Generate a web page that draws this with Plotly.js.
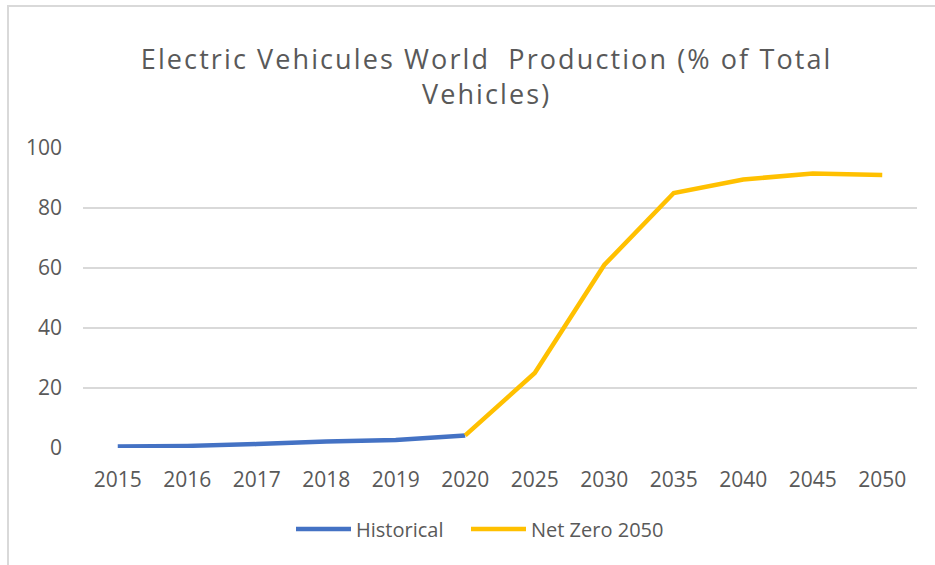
<!DOCTYPE html>
<html>
<head>
<meta charset="utf-8">
<script src="https://cdn.plot.ly/plotly-3.0.1.min.js"></script>
<style>
  html, body { margin: 0; padding: 0; background: #fff; }
  #wrap { position: relative; width: 935px; height: 565px; overflow: hidden; }
  #frame { position: absolute; left: 7px; top: 5px; width: 940px; height: 580px;
           border-left: 2px solid #d9d9d9; border-top: 2px solid #d9d9d9; pointer-events: none; }
  #chart { position: absolute; left: 0; top: 0; width: 935px; height: 565px; }
  #chart .gtitle { letter-spacing: 2.1px; }
</style>
</head>
<body>
<div id="wrap">
  <div id="chart"></div>
  <div id="frame"></div>
</div>
<script>
const categories = ["2015","2016","2017","2018","2019","2020","2025","2030","2035","2040","2045","2050"];
const historicalYears = ["2015","2016","2017","2018","2019","2020"];
const historicalValues = [0.5, 0.7, 1.3, 2.2, 2.7, 4.2];
const netZeroYears = ["2020","2025","2030","2035","2040","2045","2050"];
const netZeroValues = [4.2, 25, 61, 85, 89.5, 91.5, 91];
const yTicks = [0, 20, 40, 60, 80, 100];

const textColor = "#595959";
const font = "'Open Sans', sans-serif";

const traces = [
  { x: historicalYears, y: historicalValues, name: "Historical", type: "scatter", mode: "lines",
    line: { color: "#4472C4", width: 4.5 }, legend: "legend" },
  { x: netZeroYears, y: netZeroValues, name: "Net Zero 2050", type: "scatter", mode: "lines",
    line: { color: "#FFC000", width: 4.5 }, legend: "legend2" }
];

const legendBase = {
  orientation: "h", xanchor: "left", y: -0.27, yanchor: "middle",
  font: { family: font, size: 20, color: textColor },
  itemwidth: 55, bgcolor: "rgba(0,0,0,0)"
};

const layout = {
  width: 935, height: 565,
  paper_bgcolor: "#ffffff", plot_bgcolor: "#ffffff",
  margin: { l: 83, r: 18, t: 148, b: 117 },
  font: { family: font, color: textColor, size: 20 },
  title: {
    text: "Electric Vehicules World  Production (% of Total<br>Vehicles)",
    font: { family: font, size: 27, color: textColor },
    x: 0.484, xanchor: "center", xref: "paper",
    y: 1 - 69/565, yanchor: "middle", yref: "container"
  },
  xaxis: {
    type: "category", categoryorder: "array", categoryarray: categories,
    range: [-0.5, 11.5],
    showgrid: false, zeroline: false, showline: false,
    ticks: "", ticklabelstandoff: 17,
    tickfont: { family: font, size: 21, color: textColor }
  },
  yaxis: {
    range: [0, 100], tickvals: yTicks, ticktext: yTicks.map(String),
    showgrid: true, gridcolor: "#d9d9d9", gridwidth: 1.5,
    zeroline: false, showline: false, ticks: "", ticklabelstandoff: 20,
    tickfont: { family: font, size: 21, color: textColor }
  },
  showlegend: true,
  legend: Object.assign({}, legendBase, { x: (291 - 83) / 834 }),
  legend2: Object.assign({}, legendBase, { x: (466 - 83) / 834 })
};

Plotly.newPlot("chart", traces, layout, { displayModeBar: false, staticPlot: true });
</script>
</body>
</html>
